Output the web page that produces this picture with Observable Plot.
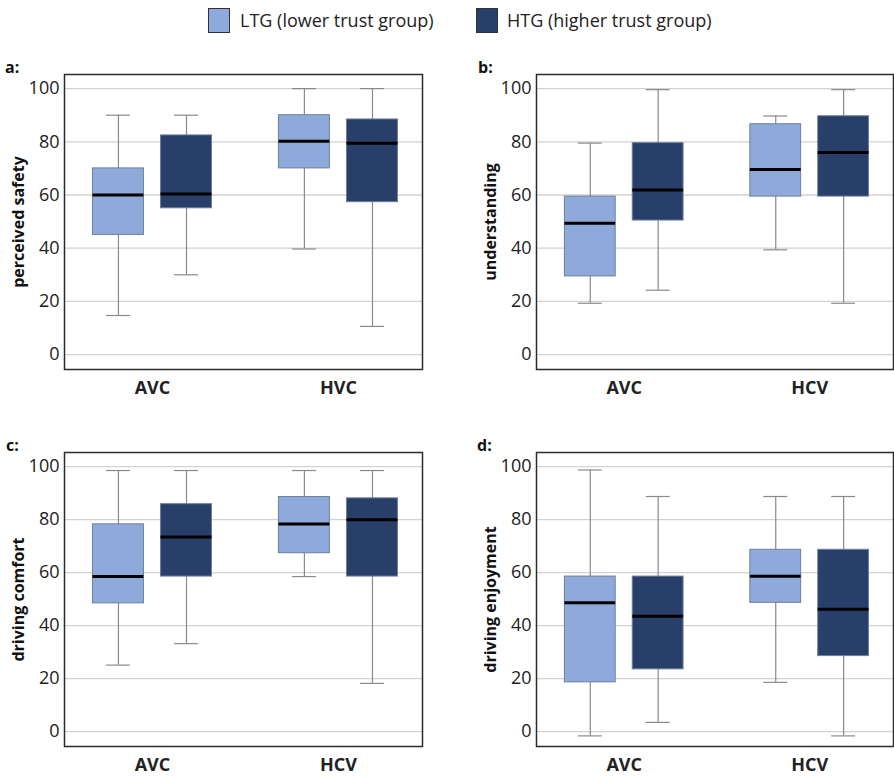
<!DOCTYPE html>
<html><head><meta charset="utf-8">
<script src="https://cdn.jsdelivr.net/npm/d3@7"></script>
<script src="https://cdn.jsdelivr.net/npm/@observablehq/plot@0.6"></script>
<style>
body{margin:0;background:#fff;font-family:"Open Sans",sans-serif;}
#root{position:relative;width:894px;height:778px;overflow:hidden;background:#fff;}
.panel{position:absolute;}
.tag{position:absolute;font-weight:bold;font-size:16px;line-height:16px;color:#111;}
.sw{position:absolute;top:8px;width:22px;height:25px;border:1px solid #333;box-sizing:border-box;}
.lt{position:absolute;top:8px;line-height:25px;font-size:18px;color:#222;white-space:nowrap;}
</style></head><body><div id="root"></div>
<script>
// ---- data ----
const groups = ["LTG (lower trust group)", "HTG (higher trust group)"];
const groupColors = ["#8eaadb", "#283f6a"];
const panelTags = ["a:", "b:", "c:", "d:"];
const yTitles = ["perceived safety", "understanding", "driving comfort", "driving enjoyment"];
const categories = [["AVC", "HVC"], ["AVC", "HCV"], ["AVC", "HCV"], ["AVC", "HCV"]];
const yTicks = [0, 20, 40, 60, 80, 100];
// box order within each panel: [cat1 LTG, cat1 HTG, cat2 LTG, cat2 HTG]
const whiskerLow  = [[14.7, 30, 39.7, 10.6], [19.3, 24.2, 39.4, 19.3], [25.1, 33.2, 58.5, 18.2], [-1.6, 3.5, 18.6, -1.6]];
const quartile1   = [[45, 55, 70, 57.3], [29.4, 50.4, 59.4, 59.4], [48.4, 58.5, 67.3, 58.5], [18.6, 23.5, 48.6, 28.5]];
const medians     = [[60, 60.4, 80.2, 79.5], [49.4, 61.9, 69.6, 76], [58.5, 73.4, 78.3, 79.9], [48.6, 43.5, 58.6, 46.2]];
const quartile3   = [[70, 82.4, 90, 88.4], [59.4, 79.5, 86.6, 89.6], [78.2, 85.8, 88.5, 88], [58.5, 58.5, 68.6, 68.6]];
const whiskerHigh = [[90, 90, 100, 100], [79.5, 99.6, 89.7, 99.6], [98.5, 98.5, 98.5, 98.5], [98.7, 88.7, 88.7, 88.7]];

// ---- layout ----
const root = document.getElementById("root");
const layout = [
  {left: 0,   top: 60,  ml: 64, mr: 25, h: 350, mb: 41},
  {left: 447, top: 60,  ml: 89, mr: 1,  h: 350, mb: 41},
  {left: 0,   top: 438, ml: 64, mr: 25, h: 340, mb: 32},
  {left: 447, top: 438, ml: 89, mr: 1,  h: 340, mb: 32}
];
const tagPos = [[5, 59], [478, 59], [6, 437], [477, 437]];
const offset = 0.183, half = 0.137, cap = 0.0645;

// legend
const legendX = [[208, 240], [476, 507]];
groups.forEach((g, i) => {
  const sw = document.createElement("div");
  sw.className = "sw"; sw.style.left = legendX[i][0] + "px"; sw.style.background = groupColors[i];
  root.appendChild(sw);
  const t = document.createElement("div");
  t.className = "lt"; t.style.left = legendX[i][1] + "px"; t.textContent = g;
  root.appendChild(t);
});

panelTags.forEach((tag, p) => {
  const rows = [];
  for (let ci = 0; ci < 2; ci++) for (let gi = 0; gi < 2; gi++) {
    const k = ci * 2 + gi;
    rows.push({
      c: ci + (gi === 0 ? -offset : offset), g: groups[gi],
      lo: whiskerLow[p][k], q1: quartile1[p][k], med: medians[p][k],
      q3: quartile3[p][k], hi: whiskerHigh[p][k]
    });
  }
  const L = layout[p];
  const chart = Plot.plot({
    width: 447, height: L.h,
    marginLeft: L.ml, marginRight: L.mr, marginTop: 14, marginBottom: L.mb,
    x: {domain: [-0.473, 1.452], axis: null},
    y: {domain: [-5.6, 105.3], axis: null},
    color: {domain: groups, range: groupColors},
    style: {fontFamily: "Open Sans", color: "#222", background: "transparent", overflow: "visible"},
    marks: [
      Plot.ruleY(yTicks, {y: d => d, stroke: "#d2d2d2", strokeWidth: 1.3}),
      Plot.ruleX(rows, {x: "c", y1: "lo", y2: "hi", stroke: "#8a8a8a", strokeWidth: 1.2}),
      Plot.ruleY(rows, {y: "lo", x1: d => d.c - cap, x2: d => d.c + cap, stroke: "#8a8a8a", strokeWidth: 1.2}),
      Plot.ruleY(rows, {y: "hi", x1: d => d.c - cap, x2: d => d.c + cap, stroke: "#8a8a8a", strokeWidth: 1.2}),
      Plot.rect(rows, {x1: d => d.c - half, x2: d => d.c + half, y1: "q1", y2: "q3", fill: "g", stroke: "#6f7e9a", strokeWidth: 1}),
      Plot.ruleY(rows, {y: "med", x1: d => d.c - half, x2: d => d.c + half, stroke: "#000", strokeWidth: 3}),
      Plot.frame({stroke: "#2b2b2b", strokeWidth: 1.5}),
      Plot.axisY({ticks: yTicks, tickSize: 0, tickPadding: 5, fontSize: 18, label: null}),
      Plot.axisX({ticks: [0, 1], tickFormat: i => categories[p][i], tickSize: 0, tickPadding: 12, fontSize: 18, fontWeight: "bold", label: null}),
      Plot.text([yTitles[p]], {text: d => d, frameAnchor: "left", textAnchor: "middle", dx: -46, rotate: -90, fontSize: 16, fontWeight: "bold", fill: "#111"})
    ]
  });
  chart.classList.add("panel");
  chart.style.left = L.left + "px";
  chart.style.top = L.top + "px";
  root.appendChild(chart);
  const t = document.createElement("div");
  t.className = "tag"; t.textContent = tag;
  t.style.left = tagPos[p][0] + "px"; t.style.top = tagPos[p][1] + "px";
  root.appendChild(t);
});
</script></body></html>
